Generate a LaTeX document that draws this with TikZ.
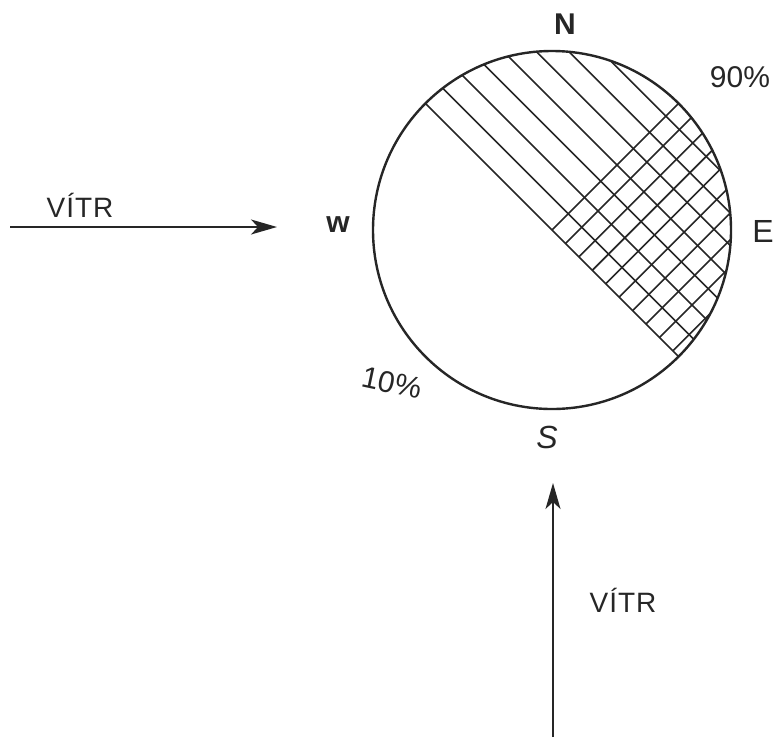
\documentclass[tikz,border=0pt]{standalone}
\usepackage{fontspec}
\setmainfont{Liberation Sans}
\usetikzlibrary{calc,arrows.meta}
\tikzset{
  hatch/.style={line width=1.6pt, black!85},
  windarrow/.style={line width=1.8pt, black!85, -{Stealth[length=26pt,width=15pt,inset=7pt]}},
  lbl/.style={inner sep=0pt, font=\fontsize{28}{30}\selectfont, text=black!85},
}
\begin{document}
\begin{tikzpicture}[x=1pt,y=-1pt]
\useasboundingbox (0,0) rectangle (782,737);
\coordinate (C) at (552,230);
% hatching clipped to circle
\begin{scope}
  \clip (C) circle (179pt);
  \foreach \d in {0,23,46,69,92,115,138,161}{
    \draw[hatch] ($(C)+({(\d-200)*0.7071},{(-\d-200)*0.7071})$) -- ($(C)+({(\d+200)*0.7071},{(-\d+200)*0.7071})$);
  }
  \foreach \e in {0,19,38,57,76,95,114,133,152,171}{
    \draw[hatch] ($(C)+({\e*0.7071},{\e*0.7071})$) -- ($(C)+({(\e+200)*0.7071},{(\e-200)*0.7071})$);
  }
\end{scope}
\node[circle, draw, line width=2.4pt, black!85, minimum size=358pt, inner sep=0pt] (circ) at (C) {};
% arrows
\coordinate (la) at (10,227);
\coordinate (lb) at (277,227);
\draw[windarrow] (la) -- (lb);
\coordinate (ba) at (553,737);
\coordinate (bb) at (553,483);
\draw[windarrow] (ba) -- (bb);
% labels
\node[lbl] (vitr1) at (80,205) {V\kern1ptÍ\kern1ptT\kern1ptR};
\node[lbl] (vitr2) at (623,600) {V\kern1ptÍ\kern1ptT\kern1ptR};
\node[lbl, font=\fontsize{30}{32}\selectfont\bfseries] (N) at (565,24) {N};
\node[lbl, font=\fontsize{32}{34}\selectfont] (E) at (763,231) {E};
\node[lbl, font=\fontsize{30}{32}\selectfont\bfseries] (W) at (338,225) {w};
\node[lbl, font=\fontsize{32}{34}\selectfont\itshape] (S) at (547,437) {S};
\node[lbl, font=\fontsize{30}{32}\selectfont] (p90) at (740,77) {90\%};
\node[lbl, font=\fontsize{30}{32}\selectfont, rotate=-12] (p10) at (392,383) {10\%};
\end{tikzpicture}
\end{document}
